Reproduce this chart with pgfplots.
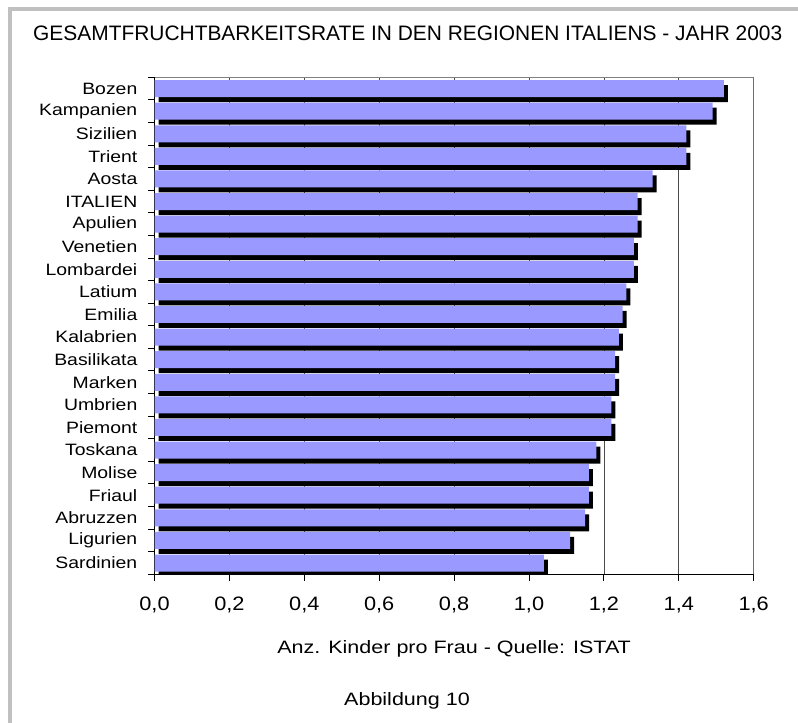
\documentclass[border=0pt]{standalone}
\usepackage{fontspec}
\setmainfont{Liberation Sans}
\newfontfamily\wideA[FakeStretch=1.18]{Liberation Sans}
\newfontfamily\wideB[FakeStretch=1.12]{Liberation Sans}
\newfontfamily\wideC[FakeStretch=1.2]{Liberation Sans}
\usepackage{pgfplots}
\pgfplotsset{compat=1.18}
\definecolor{barblue}{HTML}{9999FF}
\definecolor{framegray}{HTML}{C0C0C0}
\definecolor{boxgray}{HTML}{808080}
\begin{document}
\begin{tikzpicture}[x=1bp,y=1bp]
\useasboundingbox (0,0) rectangle (798,723);
\fill[framegray] (8,0) rectangle (12,716);
\fill[framegray] (8,712) rectangle (798,716);
\node[anchor=base west, inner sep=0pt, font=\fontsize{21}{24}\selectfont] at (33,682) {GESAMTFRUCHTBARKEITSRATE IN DEN REGIONEN ITALIENS - JAHR 2003};
\begin{axis}[
  at={(154.5bp,148.7bp)}, anchor=south west, scale only axis,
  width=599.2bp, height=497bp,
  xmin=0, xmax=1.6, ymin=-0.5, ymax=21.5,
  axis x line*=bottom, axis y line*=left,
  axis line style={-, black, line width=1bp},
  tick align=outside, major tick length=6.5bp,
  tick style={black, line width=1bp},
  xtick={0,0.2,0.4,0.6,0.8,1.0,1.2,1.4,1.6},
  xmajorgrids, major grid style={black!70, line width=0.8bp},
  xticklabel style={font=\wideB\fontsize{19.5}{22}\selectfont, inner sep=0pt, anchor=north, yshift=-16bp,
    /pgf/number format/.cd, fixed, fixed zerofill, precision=1, use comma, assume math mode=true},
  ytick={-0.5,0.5,...,21.5}, yticklabels={},
  extra y ticks={0,1,...,21},
  extra y tick labels={Sardinien,Ligurien,Abruzzen,Friaul,Molise,Toskana,Piemont,Umbrien,Marken,Basilikata,Kalabrien,Emilia,Latium,Lombardei,Venetien,Apulien,ITALIEN,Aosta,Trient,Sizilien,Kampanien,Bozen},
  extra y tick style={major tick length=0pt, ymajorgrids=false,
    yticklabel style={font=\wideA\fontsize{16.5}{19}\selectfont, inner sep=0pt, anchor=east, xshift=-17bp}},
  xlabel={Anz. Kinder pro Frau - Quelle: ISTAT},
  xlabel style={font=\wideC\fontsize{18}{21}\selectfont, at={(rel axis cs:0.5,0)}, anchor=base, inner sep=0pt, yshift=-79.7bp},
  xbar, bar width=17bp,
]
\addplot[fill=black, draw=none, bar shift=-5bp, xshift=4bp, forget plot] coordinates {
(1.04,0) (1.11,1) (1.15,2) (1.16,3) (1.16,4) (1.18,5) (1.22,6) (1.22,7) (1.23,8) (1.23,9) (1.24,10)
(1.25,11) (1.26,12) (1.28,13) (1.28,14) (1.29,15) (1.29,16) (1.33,17) (1.42,18) (1.42,19) (1.49,20) (1.52,21)};
\addplot[fill=barblue, draw=none, bar shift=0pt] coordinates {
(1.04,0) (1.11,1) (1.15,2) (1.16,3) (1.16,4) (1.18,5) (1.22,6) (1.22,7) (1.23,8) (1.23,9) (1.24,10)
(1.25,11) (1.26,12) (1.28,13) (1.28,14) (1.29,15) (1.29,16) (1.33,17) (1.42,18) (1.42,19) (1.49,20) (1.52,21)};
\draw[boxgray, line width=1bp] (rel axis cs:0,1) -- (rel axis cs:1,1) -- (rel axis cs:1,0);
\end{axis}
\node[anchor=base, inner sep=0pt, font=\wideC\fontsize{18}{21}\selectfont] at (407,17) {Abbildung 10};
\end{tikzpicture}
\end{document}
